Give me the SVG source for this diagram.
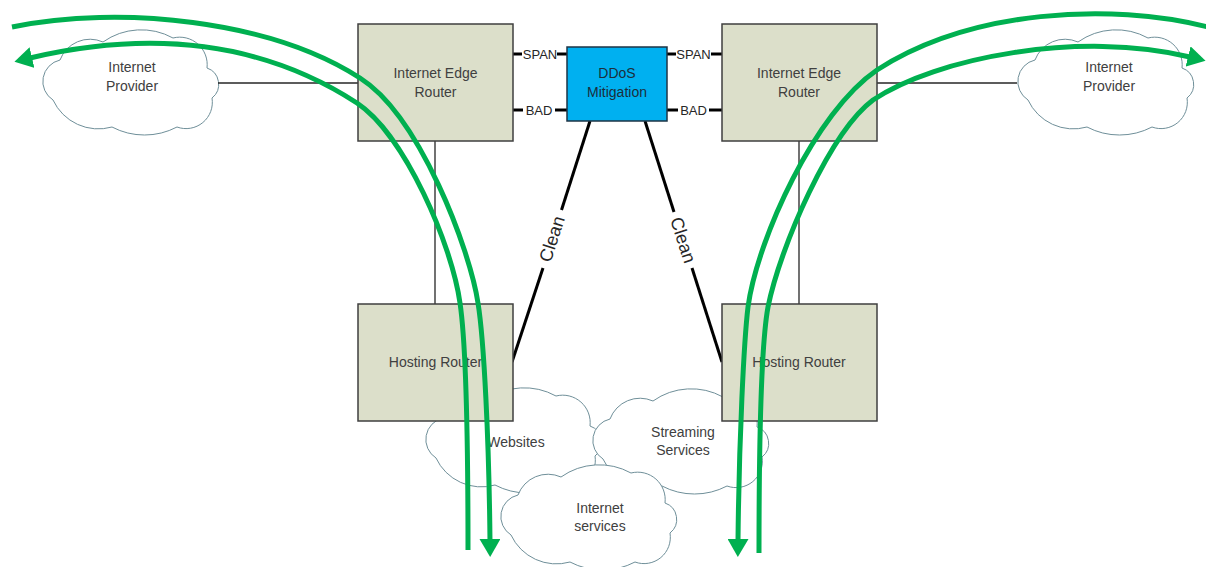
<svg xmlns="http://www.w3.org/2000/svg" width="1206" height="567" viewBox="0 0 1206 567">
  <style>
    .lbl{font-family:"Liberation Sans",Arial,sans-serif;font-size:14px;fill:#404040;text-anchor:middle}
    .port{font-family:"Liberation Sans",Arial,sans-serif;font-size:13px;fill:#262626;text-anchor:middle}
    .clean{font-family:"Liberation Sans",Arial,sans-serif;font-size:18px;fill:#262626;text-anchor:middle}
    .ddos-lbl{font-family:"Liberation Sans",Arial,sans-serif;font-size:14px;fill:#1c2e3c;text-anchor:middle}
    .router{fill:#dcdfca;stroke:#3f3f3f;stroke-width:1.5}
    .ddos{fill:#00b0f0;stroke:#1e3446;stroke-width:1.5}
    .cloud{fill:#ffffff;stroke:#6f8f99;stroke-width:1}
    .wire{stroke:#262626;stroke-width:1.3;fill:none}
    .link{stroke:#000000;stroke-width:3;fill:none}
    .flow{stroke:#00b050;stroke-width:5;fill:none;marker-end:url(#arrow)}
  </style>
  <defs>
    <path id="cloud" d="M11,70 A22,22 0 0 1 18,30 A32,32 0 0 1 61,12 A66,66 0 0 1 131,8 A27.5,27.5 0 0 1 165,38 A17.3,17.3 0 0 1 170,68 A26.3,26.3 0 0 1 135,97 A70,70 0 0 1 70,97 A50,50 0 0 1 11,70 Z"/>
    <marker id="arrow" markerUnits="userSpaceOnUse" markerWidth="18" markerHeight="21" viewBox="0 0 18 21" refX="2" refY="10.5" orient="auto">
      <path d="M0,0 L18,10.5 L0,21 Z" fill="#00b050"/>
    </marker>
  </defs>

  <!-- upstream clouds -->
  <g id="provider-left">
    <use href="#cloud" x="42" y="30" class="cloud"/>
    <text class="lbl" x="132" y="72">Internet</text>
    <text class="lbl" x="132" y="91">Provider</text>
  </g>
  <g id="provider-right">
    <use href="#cloud" x="1017" y="30" class="cloud"/>
    <text class="lbl" x="1109" y="72">Internet</text>
    <text class="lbl" x="1109" y="91">Provider</text>
  </g>

  <!-- hosted service clouds -->
  <g id="websites">
    <use href="#cloud" x="425" y="388" class="cloud"/>
    <text class="lbl" x="516" y="447">Websites</text>
  </g>
  <g id="streaming">
    <use href="#cloud" x="592" y="389" class="cloud"/>
    <text class="lbl" x="683" y="437">Streaming</text>
    <text class="lbl" x="683" y="455">Services</text>
  </g>
  <g id="internet-services">
    <use href="#cloud" x="500" y="465" class="cloud"/>
    <text class="lbl" x="600" y="513">Internet</text>
    <text class="lbl" x="600" y="531">services</text>
  </g>

  <!-- links between devices -->
  <g id="connectors">
    <line class="wire" x1="218" y1="83" x2="358" y2="83"/>
    <line class="wire" x1="877" y1="83" x2="1017" y2="83"/>
    <line class="wire" x1="435" y1="141" x2="435" y2="304"/>
    <line class="wire" x1="799" y1="141" x2="799" y2="304"/>

    <!-- SPAN / BAD ports -->
    <line class="link" x1="513" y1="54" x2="522" y2="54"/>
    <line class="link" x1="557" y1="54" x2="567" y2="54"/>
    <text class="port" x="540" y="59">SPAN</text>
    <line class="link" x1="513" y1="110" x2="523" y2="110"/>
    <line class="link" x1="555" y1="110" x2="567" y2="110"/>
    <text class="port" x="539" y="115">BAD</text>

    <line class="link" x1="667" y1="54" x2="676" y2="54"/>
    <line class="link" x1="711" y1="54" x2="722" y2="54"/>
    <text class="port" x="693.5" y="59">SPAN</text>
    <line class="link" x1="667" y1="110" x2="678" y2="110"/>
    <line class="link" x1="709" y1="110" x2="722" y2="110"/>
    <text class="port" x="693.5" y="115">BAD</text>

    <!-- clean return paths -->
    <line class="link" x1="590" y1="121" x2="561.5" y2="210"/>
    <line class="link" x1="543" y1="268" x2="512" y2="362"/>
    <text class="clean" transform="translate(552,239) rotate(-72)" y="6">Clean</text>
    <line class="link" x1="645" y1="121" x2="674" y2="212"/>
    <line class="link" x1="692" y1="268" x2="722" y2="362"/>
    <text class="clean" transform="translate(683,240) rotate(72)" y="6">Clean</text>
  </g>

  <!-- devices -->
  <g id="edge-router-left">
    <rect class="router" x="358" y="24" width="155" height="117"/>
    <text class="lbl" x="435.5" y="78">Internet Edge</text>
    <text class="lbl" x="435.5" y="97">Router</text>
  </g>
  <g id="edge-router-right">
    <rect class="router" x="722" y="24" width="155" height="117"/>
    <text class="lbl" x="799" y="78">Internet Edge</text>
    <text class="lbl" x="799" y="97">Router</text>
  </g>
  <g id="ddos-mitigation">
    <rect class="ddos" x="567" y="47" width="100" height="74"/>
    <text class="ddos-lbl" x="617" y="78">DDoS</text>
    <text class="ddos-lbl" x="617" y="97">Mitigation</text>
  </g>
  <g id="hosting-router-left">
    <rect class="router" x="358" y="304" width="155" height="117"/>
    <text class="lbl" x="435.5" y="367">Hosting Router</text>
  </g>
  <g id="hosting-router-right">
    <rect class="router" x="722" y="304" width="155" height="117"/>
    <text class="lbl" x="799" y="367">Hosting Router</text>
  </g>

  <!-- traffic flows -->
  <g id="traffic">
    <path class="flow" d="M12,27 C120,5 270,20 360,78 C420,116 470,250 478,303 C484,340 489,440 490,541"/>
    <path class="flow" d="M468,550 C468,470 467,350 460,303 C452,245 405,135 357,103 C260,40 150,30 30,58"/>
    <path class="flow" d="M1208,27 C1110,2 970,10 877,70 C815,112 757,240 748,307 C744,340 739,440 738,541"/>
    <path class="flow" d="M759,553 C759,480 760,350 768,307 C780,247 830,132 873,100 C935,58 1080,30 1190,57"/>
  </g>
</svg>
